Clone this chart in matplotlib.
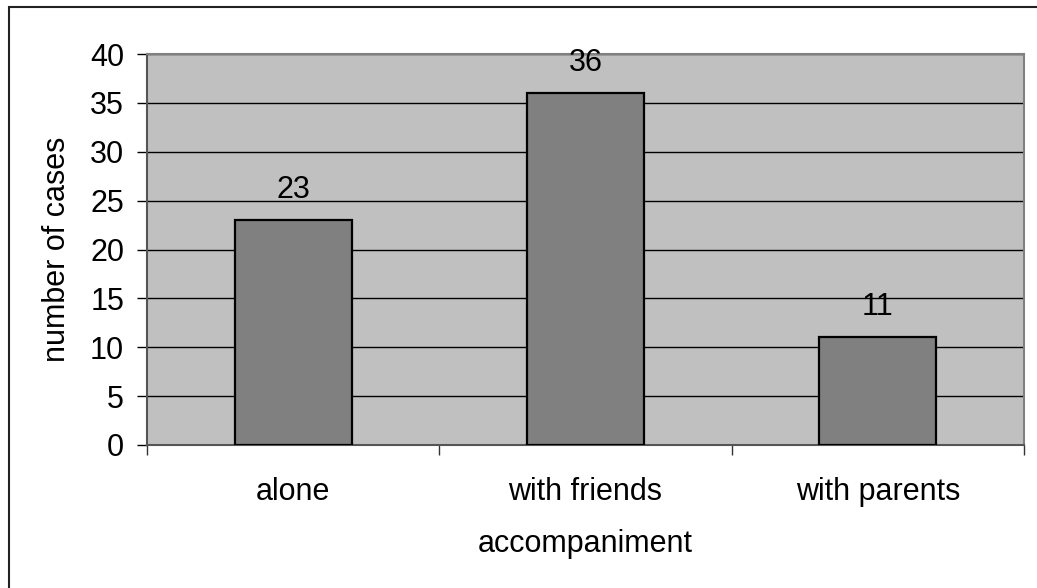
import numpy as np
import matplotlib
matplotlib.use('Agg')
from matplotlib import pyplot as plt
from matplotlib.patches import Rectangle

categories = ['alone', 'with friends', 'with parents']
cases = [23, 36, 11]
y_ticks = [0, 5, 10, 15, 20, 25, 30, 35, 40]

plt.rcParams['font.family'] = ['Liberation Sans', 'DejaVu Sans']
FS = 22

W, H = 1037, 588
fig = plt.figure(figsize=(W / 100, H / 100), dpi=100)

# outer frame, only top and left visible
fig.patches.append(Rectangle((9 / W, -0.5), 1.5, 1.5 - 7 / H,
                             transform=fig.transFigure, fill=False,
                             edgecolor='#222222', linewidth=1.5))

ax = fig.add_axes([147 / W, 1 - 445 / H, (1024 - 147) / W, (445 - 54) / H])
ax.set_facecolor('#C0C0C0')
x = np.arange(len(categories))
ax.bar(x, cases, width=0.4, color='#808080', edgecolor='black', linewidth=1.6, zorder=3)
for xi, v in zip(x, cases):
    ax.annotate(str(v), (xi, v), xytext=(0, 22), textcoords='offset points',
                ha='center', va='center', fontsize=FS)

ax.set_xlim(-0.5, 2.5)
ax.set_ylim(0, 40)
ax.set_yticks(y_ticks)
ax.yaxis.grid(True, color='black', linewidth=1.0)
ax.set_axisbelow(True)
ax.tick_params(axis='y', labelsize=FS, length=7.5, width=1, pad=9)

ax.set_xticks(x)
ax.set_xticklabels(categories)
ax.set_xticks([-0.5, 0.5, 1.5, 2.5], minor=True)
ax.tick_params(axis='x', which='major', length=0, labelsize=FS, pad=23)
ax.tick_params(axis='x', which='minor', length=7.5, width=1, color='#333333')

for s in ax.spines.values():
    s.set_color('#808080')
    s.set_linewidth(1.5)
ax.spines['left'].set_color('#555555')
ax.spines['bottom'].set_color('#555555')

ax.set_ylabel('number of cases', fontsize=FS, labelpad=13)
ax.set_xlabel('accompaniment', fontsize=FS, labelpad=16)

fig.savefig('out.png', dpi=100)
